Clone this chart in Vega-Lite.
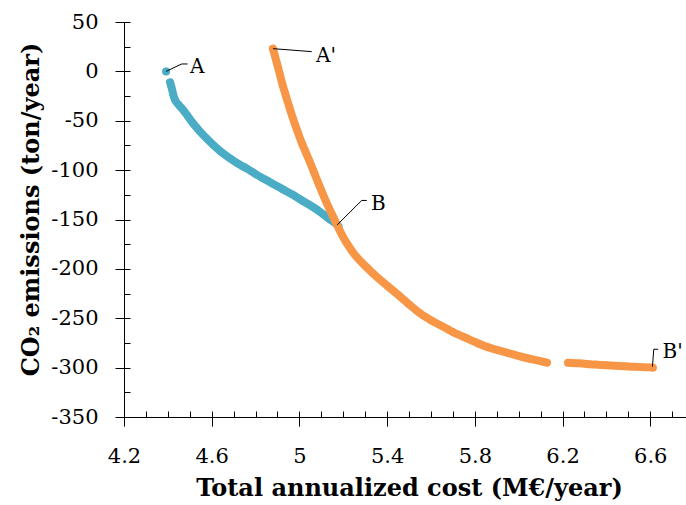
{
  "$schema": "https://vega.github.io/schema/vega-lite/v6.json",
  "width": 562,
  "height": 395,
  "autosize": {"type": "none"},
  "padding": {"left": 124, "top": 22, "right": 0, "bottom": 88},
  "background": "white",
  "config": {
    "view": {"stroke": null},
    "axis": {
      "grid": false,
      "domainColor": "black",
      "tickColor": "black",
      "labelColor": "black",
      "titleColor": "black",
      "labelFont": "DejaVu Serif",
      "titleFont": "DejaVu Serif"
    }
  },
  "datasets": {
    "blue": [
      {"x": 4.392, "y": 0, "seg": "a"},
      {"x": 4.41, "y": -11, "seg": "b"},
      {"x": 4.415, "y": -15, "seg": "b"},
      {"x": 4.42, "y": -19, "seg": "b"},
      {"x": 4.425, "y": -24, "seg": "b"},
      {"x": 4.433, "y": -29, "seg": "b"},
      {"x": 4.45, "y": -34, "seg": "b"},
      {"x": 4.47, "y": -39, "seg": "b"},
      {"x": 4.49, "y": -45, "seg": "b"},
      {"x": 4.509, "y": -51, "seg": "b"},
      {"x": 4.528, "y": -56, "seg": "b"},
      {"x": 4.547, "y": -61, "seg": "b"},
      {"x": 4.575, "y": -67.5, "seg": "b"},
      {"x": 4.607, "y": -74.5, "seg": "b"},
      {"x": 4.64, "y": -81, "seg": "b"},
      {"x": 4.683, "y": -88, "seg": "b"},
      {"x": 4.72, "y": -93.5, "seg": "b"},
      {"x": 4.761, "y": -98.5, "seg": "b"},
      {"x": 4.8, "y": -104, "seg": "b"},
      {"x": 4.84, "y": -109, "seg": "b"},
      {"x": 4.88, "y": -114, "seg": "b"},
      {"x": 4.925, "y": -119.5, "seg": "b"},
      {"x": 4.97, "y": -125, "seg": "b"},
      {"x": 5.01, "y": -130.5, "seg": "b"},
      {"x": 5.048, "y": -135.5, "seg": "b"},
      {"x": 5.08, "y": -140, "seg": "b"},
      {"x": 5.11, "y": -145, "seg": "b"},
      {"x": 5.14, "y": -150, "seg": "b"},
      {"x": 5.165, "y": -154, "seg": "b"},
      {"x": 5.178, "y": -156.5, "seg": "b"}
    ],
    "orange": [
      {"x": 4.879, "y": 23, "seg": "a"},
      {"x": 4.888, "y": 16, "seg": "a"},
      {"x": 4.9, "y": 6, "seg": "a"},
      {"x": 4.912, "y": -4, "seg": "a"},
      {"x": 4.925, "y": -15, "seg": "a"},
      {"x": 4.94, "y": -26, "seg": "a"},
      {"x": 4.955, "y": -37, "seg": "a"},
      {"x": 4.971, "y": -48, "seg": "a"},
      {"x": 4.99, "y": -60, "seg": "a"},
      {"x": 5.01, "y": -72, "seg": "a"},
      {"x": 5.033, "y": -84, "seg": "a"},
      {"x": 5.05, "y": -93, "seg": "a"},
      {"x": 5.068, "y": -103, "seg": "a"},
      {"x": 5.086, "y": -113, "seg": "a"},
      {"x": 5.1, "y": -120.5, "seg": "a"},
      {"x": 5.116, "y": -129, "seg": "a"},
      {"x": 5.132, "y": -137, "seg": "a"},
      {"x": 5.15, "y": -145.5, "seg": "a"},
      {"x": 5.173, "y": -156, "seg": "a"},
      {"x": 5.195, "y": -166, "seg": "a"},
      {"x": 5.216, "y": -174, "seg": "a"},
      {"x": 5.24, "y": -182, "seg": "a"},
      {"x": 5.261, "y": -188, "seg": "a"},
      {"x": 5.3, "y": -197, "seg": "a"},
      {"x": 5.352, "y": -208, "seg": "a"},
      {"x": 5.4, "y": -217, "seg": "a"},
      {"x": 5.459, "y": -228, "seg": "a"},
      {"x": 5.5, "y": -236, "seg": "a"},
      {"x": 5.55, "y": -245, "seg": "a"},
      {"x": 5.6, "y": -252, "seg": "a"},
      {"x": 5.656, "y": -258.6, "seg": "a"},
      {"x": 5.7, "y": -264, "seg": "a"},
      {"x": 5.75, "y": -269, "seg": "a"},
      {"x": 5.8, "y": -274, "seg": "a"},
      {"x": 5.855, "y": -279, "seg": "a"},
      {"x": 5.9, "y": -282, "seg": "a"},
      {"x": 5.95, "y": -285, "seg": "a"},
      {"x": 6.006, "y": -288.5, "seg": "a"},
      {"x": 6.05, "y": -291, "seg": "a"},
      {"x": 6.09, "y": -293, "seg": "a"},
      {"x": 6.129, "y": -295, "seg": "a"},
      {"x": 6.225, "y": -295, "seg": "b"},
      {"x": 6.26, "y": -295.5, "seg": "b"},
      {"x": 6.3, "y": -296, "seg": "b"},
      {"x": 6.325, "y": -296.5, "seg": "b"},
      {"x": 6.36, "y": -297, "seg": "b"},
      {"x": 6.4, "y": -297.5, "seg": "b"},
      {"x": 6.44, "y": -298, "seg": "b"},
      {"x": 6.48, "y": -298.5, "seg": "b"},
      {"x": 6.52, "y": -299, "seg": "b"},
      {"x": 6.56, "y": -299.5, "seg": "b"},
      {"x": 6.612, "y": -300, "seg": "b"}
    ],
    "leaders": [
      {"x": 4.392, "y": 0, "x2": 4.463, "y2": 7.5},
      {"x": 4.463, "y": 7.5, "x2": 4.49, "y2": 7.5},
      {"x": 4.88, "y": 23, "x2": 5.056, "y2": 20},
      {"x": 5.172, "y": -155.5, "x2": 5.284, "y2": -130.7},
      {"x": 5.284, "y": -130.7, "x2": 5.307, "y2": -130.7},
      {"x": 6.61, "y": -299, "x2": 6.616, "y2": -281.4},
      {"x": 6.616, "y": -281.4, "x2": 6.636, "y2": -281.4}
    ],
    "labels": [
      {"x": 4.501, "y": -1.6, "t": "A"},
      {"x": 5.076, "y": 9.8, "t": "A'"},
      {"x": 5.326, "y": -140.4, "t": "B"},
      {"x": 6.656, "y": -290.3, "t": "B'"}
    ]
  },
  "layer": [
    {
      "data": {"name": "blue"},
      "mark": {"type": "line", "color": "#4bacc6", "strokeWidth": 8, "strokeCap": "round", "strokeJoin": "round", "interpolate": "monotone"},
      "encoding": {
        "x": {
          "field": "x", "type": "quantitative",
          "scale": {"domain": [4.2, 6.763], "nice": false, "zero": false},
          "axis": {
            "orient": "bottom",
            "values": [4.2, 4.6, 5, 5.4, 5.8, 6.2, 6.6],
            "labelExpr": "toString(datum.value)",
            "tickSize": 9,
            "domainWidth": 1,
            "labelFontSize": 21,
            "labelPadding": 19,
            "labelFlush": false,
            "title": "Total annualized cost (M€/year)",
            "titleFontSize": 24,
            "titleFontWeight": "bold",
            "titleAlign": "center",
            "titleBaseline": "alphabetic",
            "titleX": 285,
            "titleY": 78
          }
        },
        "y": {
          "field": "y", "type": "quantitative",
          "scale": {"domain": [-350, 50], "nice": false, "zero": false},
          "axis": {
            "orient": "left",
            "values": [-350, -300, -250, -200, -150, -100, -50, 0, 50],
            "labelExpr": "toString(datum.value)",
            "tickSize": 9,
            "domainWidth": 1,
            "labelFontSize": 21,
            "labelPadding": 17,
            "labelFlush": false,
            "title": "CO₂ emissions (ton/year)",
            "titleFontSize": 24,
            "titleFontWeight": "bold",
            "titleAngle": -90,
            "titleAlign": "center",
            "titleBaseline": "alphabetic",
            "titleX": -86,
            "titleY": 187
          }
        },
        "detail": {"field": "seg", "type": "nominal"}
      }
    },
    {
      "data": {"name": "blue"},
      "mark": {"type": "circle", "color": "#4bacc6", "size": 50, "opacity": 1},
      "encoding": {
        "x": {
          "field": "x", "type": "quantitative",
          "scale": {"domain": [4.2, 6.763], "nice": false, "zero": false},
          "axis": {
            "orient": "bottom",
            "values": [4.2, 4.3, 4.4, 4.5, 4.6, 4.7, 4.8, 4.9, 5, 5.1, 5.2, 5.3, 5.4, 5.5, 5.6, 5.7, 5.8, 5.9, 6, 6.1, 6.2, 6.3, 6.4, 6.5, 6.6, 6.7],
            "labels": false,
            "domain": false,
            "tickSize": -6,
            "title": null
          }
        },
        "y": {
          "field": "y", "type": "quantitative",
          "scale": {"domain": [-350, 50], "nice": false, "zero": false},
          "axis": {
            "orient": "left",
            "values": [-350, -325, -300, -275, -250, -225, -200, -175, -150, -125, -100, -75, -50, -25, 0, 25, 50],
            "labels": false,
            "domain": false,
            "tickSize": -6,
            "title": null
          }
        }
      }
    },
    {
      "data": {"name": "orange"},
      "mark": {"type": "line", "color": "#f79646", "strokeWidth": 8, "strokeCap": "round", "strokeJoin": "round", "interpolate": "monotone"},
      "encoding": {
        "x": {"field": "x", "type": "quantitative", "scale": {"domain": [4.2, 6.763], "nice": false, "zero": false}, "axis": null},
        "y": {"field": "y", "type": "quantitative", "scale": {"domain": [-350, 50], "nice": false, "zero": false}, "axis": null},
        "detail": {"field": "seg", "type": "nominal"}
      }
    },
    {
      "data": {"name": "orange"},
      "mark": {"type": "circle", "color": "#f79646", "size": 50, "opacity": 1},
      "encoding": {
        "x": {"field": "x", "type": "quantitative", "scale": {"domain": [4.2, 6.763], "nice": false, "zero": false}, "axis": null},
        "y": {"field": "y", "type": "quantitative", "scale": {"domain": [-350, 50], "nice": false, "zero": false}, "axis": null}
      }
    },
    {
      "data": {"name": "leaders"},
      "mark": {"type": "rule", "color": "black", "strokeWidth": 1},
      "encoding": {
        "x": {"field": "x", "type": "quantitative", "scale": {"domain": [4.2, 6.763], "nice": false, "zero": false}, "axis": null},
        "y": {"field": "y", "type": "quantitative", "scale": {"domain": [-350, 50], "nice": false, "zero": false}, "axis": null},
        "x2": {"field": "x2"},
        "y2": {"field": "y2"}
      }
    },
    {
      "data": {"name": "labels"},
      "mark": {"type": "text", "font": "DejaVu Serif", "fontSize": 20, "align": "left", "baseline": "alphabetic", "color": "black"},
      "encoding": {
        "x": {"field": "x", "type": "quantitative", "scale": {"domain": [4.2, 6.763], "nice": false, "zero": false}, "axis": null},
        "y": {"field": "y", "type": "quantitative", "scale": {"domain": [-350, 50], "nice": false, "zero": false}, "axis": null},
        "text": {"field": "t", "type": "nominal"}
      }
    }
  ],
  "resolve": {"axis": {"x": "independent", "y": "independent"}}
}
